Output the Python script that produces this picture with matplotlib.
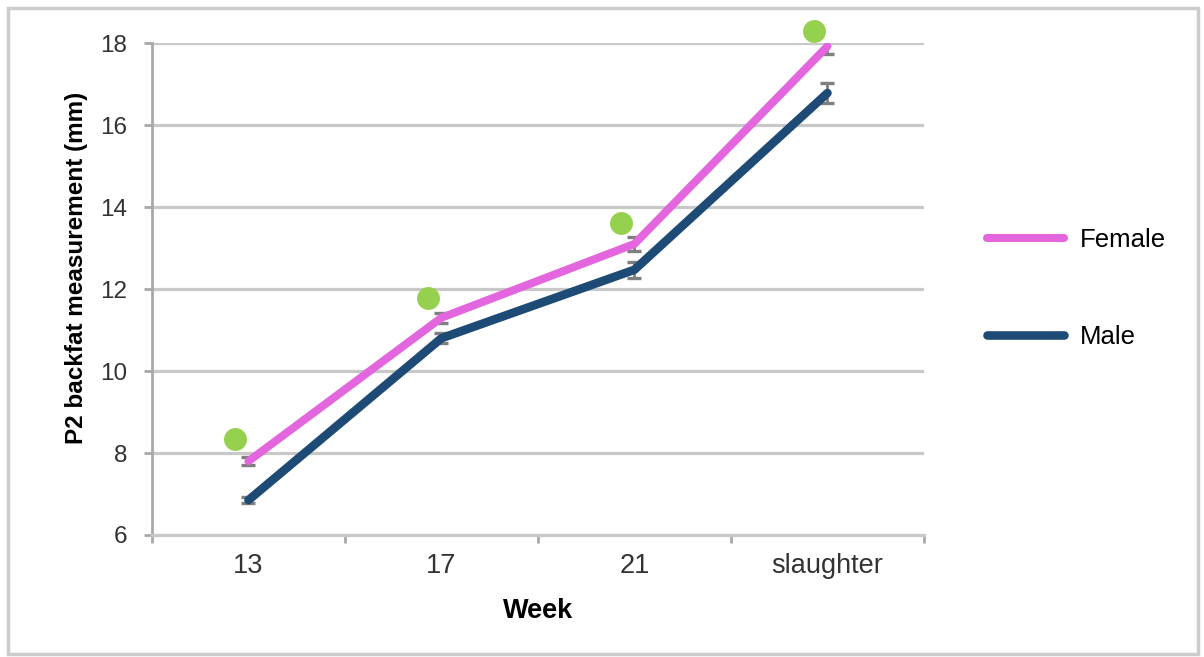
import matplotlib.pyplot as plt
from matplotlib.patches import Rectangle

plt.rcParams['font.family'] = ['Liberation Sans', 'DejaVu Sans']

weeks = ['13', '17', '21', 'slaughter']
female = [7.8, 11.3, 13.1, 17.92]
male = [6.85, 10.8, 12.47, 16.78]
female_err = [0.1, 0.12, 0.18, 0.18]
male_err = [0.08, 0.12, 0.19, 0.25]
# significance markers (female vs male)
sig_y = [8.35, 11.77, 13.6, 18.3]

pink = '#e466df'
navy = '#1d4b75'
green = '#96d04f'
grid_gray = '#c8c8c8'
axis_gray = '#a8a8a8'

fig = plt.figure(figsize=(12.04, 6.57), dpi=100)
ax = fig.add_axes([0.1262, 0.1857, 0.6412, 0.7488])

x = list(range(len(weeks)))

ax.errorbar(x, female, yerr=female_err, fmt='none', ecolor='#7f7f7f',
            elinewidth=2, capsize=5, capthick=2.4, zorder=2)
ax.errorbar(x, male, yerr=male_err, fmt='none', ecolor='#7f7f7f',
            elinewidth=2, capsize=5, capthick=2.4, zorder=2)
ax.plot(x, female, color=pink, lw=5.8, label='Female', zorder=3,
        solid_capstyle='round')
ax.plot(x, male, color=navy, lw=6.2, label='Male', zorder=3,
        solid_capstyle='round')
ax.plot([i - 0.07 for i in x], sig_y, 'o', color=green, ms=16.5,
        mec='none', zorder=4, clip_on=False)

ax.set_xlim(-0.5, 3.5)
ax.set_ylim(6, 18)
ax.set_yticks(range(6, 19, 2))
ax.set_xticks([-0.5, 0.5, 1.5, 2.5, 3.5])
ax.set_xticklabels([])
ax.set_xticks(x, minor=True)
ax.set_xticklabels(weeks, minor=True)
ax.tick_params(axis='x', which='minor', length=0, pad=13,
               labelsize=19.5, labelcolor='#333333')
ax.tick_params(axis='x', which='major', length=6, width=2, color=axis_gray)
ax.tick_params(axis='y', length=6, width=2, color=axis_gray, pad=12,
               labelsize=17.5, labelcolor='#333333')

ax.grid(axis='y', color=grid_gray, lw=2.3, zorder=0)
ax.set_axisbelow(True)
for side in ['top', 'right']:
    ax.spines[side].set_visible(False)
ax.spines['left'].set_color(axis_gray)
ax.spines['left'].set_linewidth(2)
ax.spines['bottom'].set_color(grid_gray)
ax.spines['bottom'].set_linewidth(2.3)

ax.set_xlabel('Week', fontsize=19.5, fontweight='bold', labelpad=14)
ax.set_ylabel('P2 backfat measurement (mm)', fontsize=17.5,
              fontweight='bold')
ax.yaxis.set_label_coords(-64 / 772, (535 - 268) / 492)

fig.legend(loc='center left', bbox_to_anchor=(987 / 1204, 1 - 288.5 / 657),
           frameon=False, fontsize=18.5, handlelength=3.0, handletextpad=0.6,
           labelspacing=2.85, borderpad=0, borderaxespad=0)

# light gray frame round the whole figure
fig.patches.append(Rectangle((8 / 1204, 3 / 657), 1190 / 1204, 646 / 657,
                             transform=fig.transFigure, fill=False,
                             edgecolor='#cccccc', lw=2.5))

fig.savefig('out.png', dpi=100)
